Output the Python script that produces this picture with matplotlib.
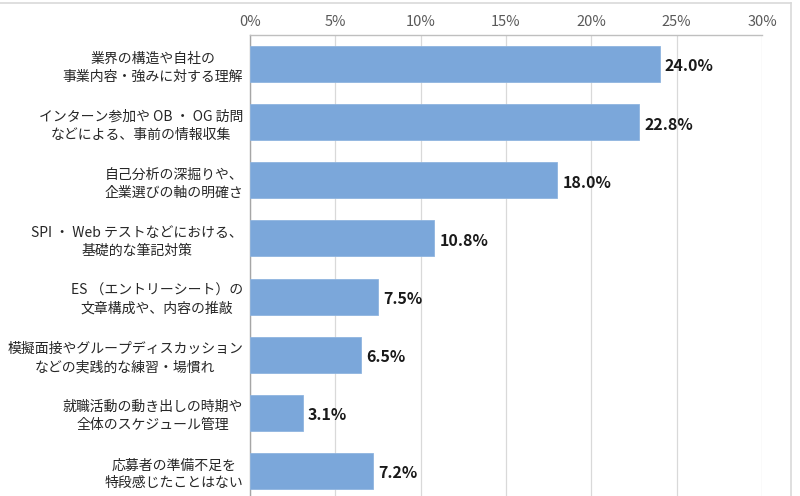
import matplotlib
matplotlib.use("Agg")
import matplotlib.pyplot as plt
from matplotlib.lines import Line2D

plt.rcParams['font.family'] = ['Noto Sans CJK JP', 'DejaVu Sans']

categories = [
    "業界の構造や自社の\n事業内容・強みに対する理解",
    "インターン参加や OB ・ OG 訪問\nなどによる、事前の情報収集",
    "自己分析の深掘りや、\n企業選びの軸の明確さ",
    "SPI ・ Web テストなどにおける、\n基礎的な筆記対策",
    "ES （エントリーシート）の\n文章構成や、内容の推敲",
    "模擬面接やグループディスカッション\nなどの実践的な練習・場慣れ",
    "就職活動の動き出しの時期や\n全体のスケジュール管理",
    "応募者の準備不足を\n特段感じたことはない",
]
values = [24.0, 22.8, 18.0, 10.8, 7.5, 6.5, 3.1, 7.2]
xticks = [0, 5, 10, 15, 20, 25, 30]
xticklabels = ["0%", "5%", "10%", "15%", "20%", "25%", "30%"]

fig = plt.figure(figsize=(8, 4.96), dpi=100)
ax = fig.add_axes([250/800, -4/496, 512/800, (500-35)/496])

n = len(categories)
ypos = list(range(n))
ax.barh(ypos, values, height=0.62, color="#7BA7DA", edgecolor="#8FB5E0", linewidth=0.6, zorder=3)
ax.set_ylim(n - 0.5, -0.5)
ax.set_xlim(0, 30)

ax.set_xticks(xticks)
ax.set_xticklabels(xticklabels)
ax.xaxis.tick_top()
ax.tick_params(axis='x', length=0, pad=4, labelsize=10.5, labelcolor="#595959")
ax.set_yticks(ypos)
ax.set_yticklabels(categories, fontsize=10, color="#262626", linespacing=1.35)
for lbl in ax.get_yticklabels():
    lbl.set_multialignment('center')
ax.tick_params(axis='y', length=0, pad=5)

ax.grid(axis='x', color="#D9D9D9", linewidth=0.9, zorder=0)
for s in ['right', 'bottom']:
    ax.spines[s].set_visible(False)
ax.spines['left'].set_color("#A6A6A6")
ax.spines['left'].set_linewidth(1.0)
ax.spines['top'].set_color("#BFBFBF")
ax.spines['top'].set_linewidth(1.0)

for y, v in zip(ypos, values):
    ax.text(v + 0.3, y + 0.04, f"{v:.1f}%", va='center', ha='left', fontsize=11.5,
            fontweight='bold', color="#1a1a1a", zorder=4)

fig.add_artist(Line2D([0, 791/800], [1 - 2.5/496, 1 - 2.5/496], color="#D9D9D9", linewidth=1.2, transform=fig.transFigure))
fig.add_artist(Line2D([791/800, 791/800], [0, 1 - 2.5/496], color="#D9D9D9", linewidth=1.2, transform=fig.transFigure))

fig.savefig("out.png", dpi=100)
